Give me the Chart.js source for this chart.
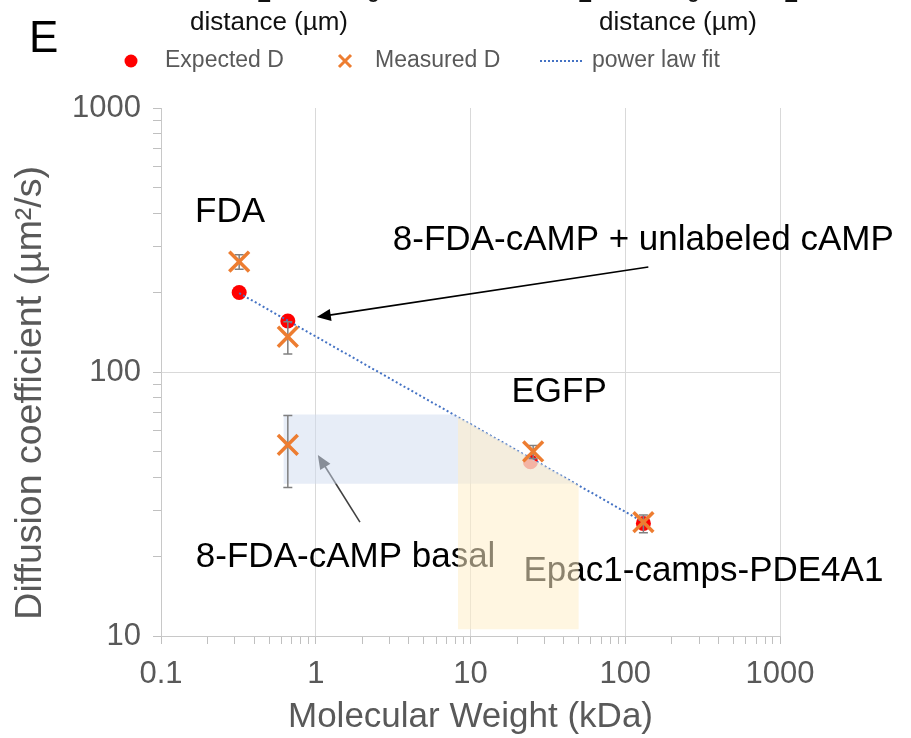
<!DOCTYPE html>
<html><head><meta charset="utf-8">
<script src="https://cdn.jsdelivr.net/npm/chart.js@4.4.1/dist/chart.umd.min.js"></script>
<style>
html,body{margin:0;padding:0;background:#fff;}
#wrap{position:relative;width:911px;height:738px;overflow:hidden;font-family:"Liberation Sans",Arial,sans-serif;}
#c{position:absolute;left:0;top:0;}
.t{position:absolute;white-space:nowrap;line-height:1;}
</style></head><body>
<div id="wrap">
<canvas id="c" width="911" height="738"></canvas>
<div class="t" style="left:257px;top:-20px;font-size:26px;color:#111">2</div>
<div class="t" style="left:366px;top:-20px;font-size:26px;color:#111">0</div>
<div class="t" style="left:578px;top:-20px;font-size:26px;color:#111">2</div>
<div class="t" style="left:686px;top:-20px;font-size:26px;color:#111">0</div>
<div class="t" style="left:784px;top:-20px;font-size:26px;color:#111">2</div>
<div class="t" style="left:190px;top:8px;font-size:26px;color:#111">distance (µm)</div>
<div class="t" style="left:599px;top:8px;font-size:26px;color:#111">distance (µm)</div>
<div class="t" style="left:29px;top:15px;font-size:44px;color:#000">E</div>
</div>
<script>
// ---- data ----
const expectedMW = [0.32, 0.66, 24.4, 131];
const expectedD  = [200, 156, 45.7, 26.7];
const measuredMW = [0.32, 0.66, 0.66, 25.4, 131];
const measuredD  = [262, 136, 53, 50, 27];
const measuredLow  = [245, 117, 36.5, 47, 24.6];
const measuredHigh = [278, 155, 68.5, 52.7, 28.7];
const fitMW = [0.32, 131];
const fitD  = [199, 27];
// basal D range mapped onto fit (blue band) and corresponding MW range (yellow band)
const basalBandMW = [0.62, 7.77, 48.0, 0.62];
const basalBandD  = [69, 69, 37.7, 37.7];
const mwBandMW = [8.3, 8.3, 50, 50];
const mwBandD  = [10.6, 67.5, 37.2, 10.6];
const xMajorTicks = [0.1, 1, 10, 100, 1000];
const yMajorTicks = [10, 100, 1000];
const seriesNames = ['Expected D', 'Measured D', 'power law fit'];

const FONT = '"Liberation Sans", Arial, sans-serif';
const annotations = [
  {text: 'FDA', x: 0.166, y: 404},
  {text: '8-FDA-cAMP + unlabeled cAMP', x: 3.15, y: 316},
  {text: 'EGFP', x: 18.4, y: 84},
  {text: '8-FDA-cAMP basal', x: 0.168, y: 19.9},
  {text: 'Epac1-camps-PDE4A1', x: 22.0, y: 17.5}
];
const arrows = [
  {x1: 141, y1: 250, x2: 1.016, y2: 161.5, color: '#000'},
  {x1: 1.93, y1: 27.0, x2: 1.032, y2: 48.5, color: '#404040'}
];

function withMinors(majors) {
  const out = [];
  for (let i = 0; i < majors.length; i++) {
    out.push(majors[i]);
    if (i < majors.length - 1) for (let k = 2; k <= 9; k++) out.push(majors[i] * k);
  }
  return out;
}
const isMajor = (list, v) => list.some(m => Math.abs(m - v) < 1e-9 * Math.max(1, m));

const overlayPlugin = {
  id: 'overlay',
  beforeDatasetsDraw(chart) {
    const ctx = chart.ctx, xs = chart.scales.x, ys = chart.scales.y;
    ctx.save();
    ctx.font = '35px ' + FONT;
    ctx.fillStyle = '#000';
    ctx.textBaseline = 'middle';
    ctx.textAlign = 'left';
    annotations.forEach(a => ctx.fillText(a.text, xs.getPixelForValue(a.x), ys.getPixelForValue(a.y)));
    arrows.forEach(a => {
      const x1 = xs.getPixelForValue(a.x1), y1 = ys.getPixelForValue(a.y1);
      const x2 = xs.getPixelForValue(a.x2), y2 = ys.getPixelForValue(a.y2);
      const ang = Math.atan2(y2 - y1, x2 - x1);
      const hl = 14, hw = 6;
      ctx.strokeStyle = a.color; ctx.fillStyle = a.color; ctx.lineWidth = 1.6;
      ctx.beginPath();
      ctx.moveTo(x1, y1);
      ctx.lineTo(x2 - Math.cos(ang) * hl * 0.8, y2 - Math.sin(ang) * hl * 0.8);
      ctx.stroke();
      ctx.beginPath();
      ctx.moveTo(x2, y2);
      ctx.lineTo(x2 - Math.cos(ang) * hl + Math.sin(ang) * hw, y2 - Math.sin(ang) * hl - Math.cos(ang) * hw);
      ctx.lineTo(x2 - Math.cos(ang) * hl - Math.sin(ang) * hw, y2 - Math.sin(ang) * hl + Math.cos(ang) * hw);
      ctx.closePath();
      ctx.fill();
    });
    ctx.restore();
  },
  beforeDatasetDraw(chart, args) {
    if (args.index !== 1) return;
    const ctx = chart.ctx, xs = chart.scales.x, ys = chart.scales.y;
    ctx.save();
    const poly = (mx, dy, color) => {
      ctx.beginPath();
      mx.forEach((m, i) => {
        const px = xs.getPixelForValue(m), py = ys.getPixelForValue(dy[i]);
        if (i === 0) ctx.moveTo(px, py); else ctx.lineTo(px, py);
      });
      ctx.closePath();
      ctx.fillStyle = color;
      ctx.fill();
    };
    poly(basalBandMW, basalBandD, 'rgba(208,220,240,0.5)');
    poly(mwBandMW, mwBandD, 'rgba(255,238,200,0.55)');
    // error bars of measured D
    ctx.strokeStyle = '#808080';
    ctx.lineWidth = 1.5;
    measuredMW.forEach((m, i) => {
      const px = xs.getPixelForValue(m);
      const pl = ys.getPixelForValue(measuredLow[i]), ph = ys.getPixelForValue(measuredHigh[i]);
      ctx.beginPath();
      ctx.moveTo(px, pl); ctx.lineTo(px, ph);
      ctx.moveTo(px - 4.5, pl); ctx.lineTo(px + 4.5, pl);
      ctx.moveTo(px - 4.5, ph); ctx.lineTo(px + 4.5, ph);
      ctx.stroke();
    });
    ctx.restore();
  },
  afterDraw(chart) {
    const ctx = chart.ctx;
    const ds = chart.data.datasets;
    const y = 61;
    ctx.save();
    ctx.font = '23px ' + FONT;
    ctx.fillStyle = '#595959';
    ctx.textBaseline = 'middle';
    ctx.textAlign = 'left';
    // Expected D
    ctx.beginPath(); ctx.arc(131, y, 6.5, 0, Math.PI * 2);
    ctx.fillStyle = ds[0].backgroundColor; ctx.fill();
    ctx.fillStyle = '#595959'; ctx.fillText(seriesNames[0], 165, y);
    // Measured D
    ctx.strokeStyle = ds[1].borderColor; ctx.lineWidth = 3;
    ctx.beginPath();
    ctx.moveTo(339, y - 6); ctx.lineTo(351, y + 6);
    ctx.moveTo(351, y - 6); ctx.lineTo(339, y + 6);
    ctx.stroke();
    ctx.fillText(seriesNames[1], 375, y);
    // fit
    ctx.strokeStyle = ds[2].borderColor; ctx.lineWidth = 2;
    ctx.setLineDash([2, 2]);
    ctx.beginPath(); ctx.moveTo(540, y); ctx.lineTo(584, y); ctx.stroke();
    ctx.setLineDash([]);
    ctx.fillText(seriesNames[2], 592, y);
    ctx.restore();
  }
};

const axisFont = {family: FONT, size: 31};
new Chart(document.getElementById('c'), {
  type: 'scatter',
  data: {
    datasets: [
      {
        label: seriesNames[0],
        data: expectedMW.map((m, i) => ({x: m, y: expectedD[i]})),
        backgroundColor: '#FF0000', borderColor: '#FF0000',
        pointRadius: 7.5, pointStyle: 'circle', borderWidth: 0, order: 3
      },
      {
        label: seriesNames[1],
        data: measuredMW.map((m, i) => ({x: m, y: measuredD[i]})),
        backgroundColor: '#ED7D31', borderColor: '#ED7D31',
        pointRadius: 14, pointStyle: 'crossRot', borderWidth: 3.5, order: 1
      },
      {
        label: seriesNames[2],
        data: fitMW.map((m, i) => ({x: m, y: fitD[i]})),
        showLine: true, borderColor: '#4472C4', borderWidth: 2,
        borderDash: [2, 2.5], pointRadius: 0, order: 2
      }
    ]
  },
  options: {
    responsive: false,
    animation: false,
    layout: {padding: {top: 108, right: 131, left: 0, bottom: 0}},
    plugins: {legend: {display: false}, tooltip: {enabled: false}},
    scales: {
      x: {
        type: 'logarithmic', min: 0.1, max: 1000,
        afterBuildTicks: s => { s.ticks = withMinors(xMajorTicks).map(v => ({value: v})); },
        afterFit: s => { s.height = 102; },
        ticks: {
          autoSkip: false, maxRotation: 0, color: '#595959', font: axisFont, padding: 12,
          callback: v => isMajor(xMajorTicks, v) ? String(xMajorTicks.find(m => Math.abs(m - v) < 1e-9 * Math.max(1, m))) : ''
        },
        grid: {
          color: c => (c.tick && isMajor(xMajorTicks, c.tick.value)) ? '#d9d9d9' : 'rgba(0,0,0,0)',
          tickColor: '#c0c0c0', tickLength: 8, lineWidth: 1
        },
        border: {color: '#c8c8c8', width: 1},
        title: {display: true, text: 'Molecular Weight (kDa)', color: '#595959', font: {family: FONT, size: 35}, padding: {top: 0, bottom: 0}}
      },
      y: {
        type: 'logarithmic', min: 10, max: 1000,
        afterBuildTicks: s => { s.ticks = withMinors(yMajorTicks).map(v => ({value: v})); },
        afterFit: s => { s.width = 161; },
        ticks: {
          autoSkip: false, color: '#595959', font: axisFont, padding: 12,
          callback: v => isMajor(yMajorTicks, v) ? String(yMajorTicks.find(m => Math.abs(m - v) < 1e-9 * m)) : ''
        },
        grid: {
          color: c => (c.tick && isMajor([10, 100], c.tick.value)) ? '#d9d9d9' : 'rgba(0,0,0,0)',
          tickColor: '#c0c0c0', tickLength: 8, lineWidth: 1
        },
        border: {color: '#c8c8c8', width: 1},
        title: {display: true, align: 'center', text: 'Diffusion coefficient (µm²/s)    ', color: '#595959', font: {family: FONT, size: 37.5}, padding: {top: 8, bottom: 0}}
      }
    }
  },
  plugins: [overlayPlugin]
});
</script>
</body></html>
